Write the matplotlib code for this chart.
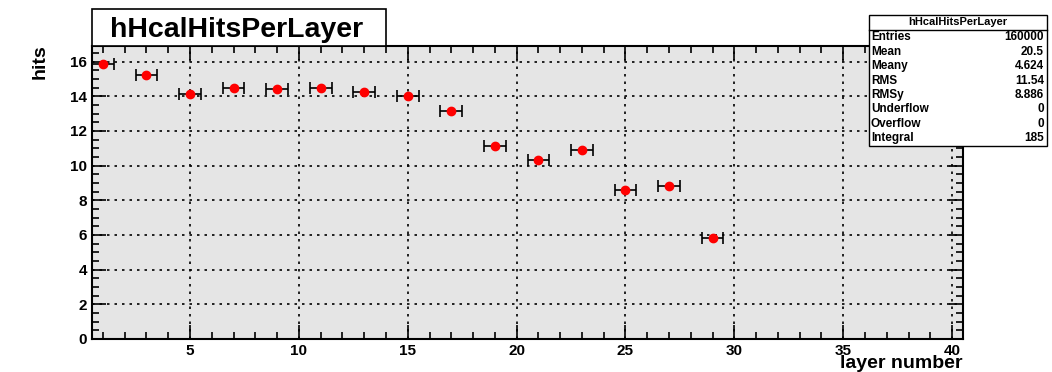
import matplotlib.pyplot as plt
import numpy as np
from matplotlib.patches import Rectangle
from matplotlib.ticker import MultipleLocator

plt.rcParams['font.family'] = ['Liberation Sans', 'DejaVu Sans']
plt.rcParams['font.weight'] = 'bold'

# layer centres and mean hits per layer
layers = [1, 3, 5, 7, 9, 11, 13, 15, 17, 19, 21, 23, 25, 27, 29]
hits = [15.85, 15.20, 14.14, 14.45, 14.43, 14.45, 14.24, 14.00,
        13.14, 11.16, 10.30, 10.93, 8.59, 8.82, 5.84]
bin_half_width = 0.5

stats_names = ['Entries', 'Mean', 'Meany', 'RMS', 'RMSy', 'Underflow', 'Overflow', 'Integral']
stats_values = ['160000', '20.5', '4.624', '11.54', '8.886', '0', '0', '185']

W, H = 1052, 372
fig = plt.figure(figsize=(W / 100, H / 100), dpi=100)
ax = fig.add_axes([92 / W, 1 - 339 / H, (963 - 92) / W, (339 - 46) / H])
ax.set_facecolor('#e5e5e5')

ax.errorbar(layers, hits, xerr=bin_half_width, fmt='o', color='red', markersize=6,
            ecolor='black', elinewidth=1.2, capsize=4, capthick=1.2, zorder=3)

ax.set_xlim(0.5, 40.5)
ax.set_ylim(0, 16.9)
ax.xaxis.set_major_locator(MultipleLocator(5))
ax.xaxis.set_minor_locator(MultipleLocator(1))
ax.yaxis.set_major_locator(MultipleLocator(2))
ax.yaxis.set_minor_locator(MultipleLocator(0.5))
ax.tick_params(which='both', direction='in', top=True, right=True, width=1.2)
ax.tick_params(which='major', length=10, labelsize=11)
ax.tick_params(which='minor', length=5)
for lab in ax.get_xticklabels() + ax.get_yticklabels():
    lab.set_fontweight('bold')
ax.grid(True, which='major', color='black', linestyle=(0, (1.5, 3)), linewidth=1.2)
for s in ax.spines.values():
    s.set_linewidth(1.5)

fig.text(963 / W, 1 - 364 / H, 'layer number', ha='right', va='center',
         fontsize=14, fontweight='bold')
fig.text(40 / W, 1 - 62 / H, 'hits', ha='center', va='center', rotation=90,
         fontsize=14, fontweight='bold')

# title box
fig.patches.append(Rectangle((92 / W, 1 - 46 / H), (386 - 92) / W, (46 - 9) / H,
                             transform=fig.transFigure, facecolor='white',
                             edgecolor='black', linewidth=1.2))
fig.text(237 / W, 1 - 30 / H, 'hHcalHitsPerLayer', ha='center', va='center',
         fontsize=20.5, fontweight='bold')

# stats box
bx0, bx1, by0, by1 = 869, 1047, 15, 146
fig.patches.append(Rectangle((bx0 / W, 1 - by1 / H), (bx1 - bx0) / W, (by1 - by0) / H,
                             transform=fig.transFigure, facecolor='white',
                             edgecolor='black', linewidth=1.0, zorder=5))
fig.add_artist(plt.Line2D([bx0 / W, bx1 / W], [1 - 30 / H, 1 - 30 / H],
                          transform=fig.transFigure, color='black', linewidth=1.0, zorder=6))
fig.text((bx0 + bx1) / 2 / W, 1 - 22 / H, 'hHcalHitsPerLayer', ha='center', va='center',
         fontsize=8, fontweight='bold', zorder=7)
for i, (n, v) in enumerate(zip(stats_names, stats_values)):
    y = 37.5 + i * 14.4
    fig.text((bx0 + 2) / W, 1 - y / H, n, ha='left', va='center', fontsize=8.5,
             fontweight='bold', zorder=7)
    fig.text((bx1 - 3) / W, 1 - y / H, v, ha='right', va='center', fontsize=8.5,
             fontweight='bold', zorder=7)

fig.savefig('out.png', dpi=100)
